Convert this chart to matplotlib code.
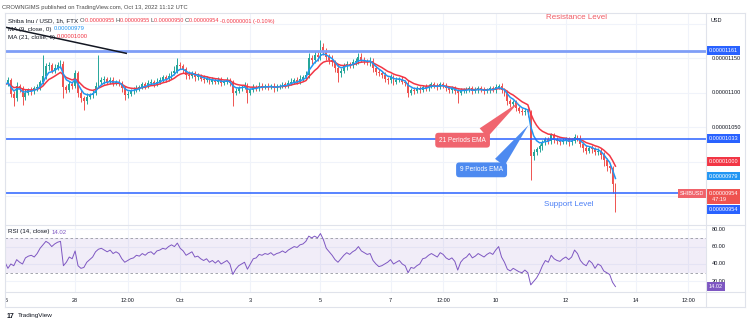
import numpy as np
import pandas as pd
import matplotlib
matplotlib.use("Agg")
import matplotlib.pyplot as plt
import matplotlib.dates as mdates
import matplotlib.transforms as mtransforms
from matplotlib.lines import Line2D

plt.rcParams["font.family"] = ["Liberation Sans", "DejaVu Sans"]

# SHIB/USD, 2h candles from Sep 26 00:00, prices in units of 1e-8 USD
start = "2022-09-26 00:00"
first_open = 1108
closes = [
    1112, 1118, 1098, 1092, 1110, 1106, 1094, 1100, 1104, 1102,
    1106, 1108, 1115, 1124, 1138, 1140, 1132, 1136, 1140, 1142,
    1108, 1104, 1112, 1110, 1128, 1100, 1092, 1088, 1094, 1096,
    1100, 1110, 1116, 1118, 1120, 1116, 1118, 1114, 1116, 1114,
    1106, 1096, 1098, 1102, 1104, 1106, 1108, 1112, 1110, 1114,
    1116, 1112, 1116, 1118, 1122, 1120, 1124, 1128, 1132, 1140,
    1138, 1134, 1126, 1124, 1128, 1122, 1124, 1120, 1118, 1120,
    1116, 1118, 1116, 1118, 1114, 1116, 1118, 1114, 1100, 1102,
    1106, 1108, 1110, 1100, 1104, 1108, 1106, 1110, 1108, 1110,
    1108, 1110, 1106, 1108, 1110, 1112, 1110, 1114, 1116, 1118,
    1116, 1120, 1122, 1126, 1150, 1148, 1154, 1152, 1166, 1160,
    1152, 1148, 1144, 1136, 1128, 1132, 1138, 1142, 1140, 1144,
    1146, 1152, 1148, 1146, 1144, 1146, 1136, 1130, 1128, 1126,
    1120, 1118, 1122, 1116, 1118, 1120, 1116, 1114, 1100, 1104,
    1102, 1106, 1104, 1108, 1106, 1110, 1112, 1110, 1108, 1112,
    1110, 1106, 1104, 1106, 1102, 1100, 1102, 1104, 1104, 1106,
    1102, 1104, 1106, 1104, 1102, 1104, 1106, 1104, 1108, 1110,
    1104, 1100, 1088, 1084, 1086, 1078, 1074, 1072, 1074, 1072,
    1008, 1014, 1018, 1022, 1028, 1032, 1030, 1038, 1032, 1030,
    1028, 1030, 1032, 1028, 1030, 1036, 1034, 1026, 1020, 1016,
    1020, 1018, 1014, 1016, 1010, 1002, 994, 990, 968, 954,
]
upper_wick = [
    4, 5, 3, 4, 6, 3, 4, 5, 3, 4,
    3, 5, 4, 30, 5, 4, 3, 5, 4, 6,
    4, 3, 5, 4, 5, 3, 4, 3, 5, 4,
    4, 6, 39, 5, 4, 3, 5, 4, 3, 4,
    3, 4, 5, 3, 4, 5, 3, 4, 3, 5,
    4, 3, 5, 4, 3, 4, 5, 4, 6, 10,
    5, 4, 3, 5, 4, 3, 4, 3, 5, 4,
    3, 4, 3, 4, 5, 3, 4, 3, 4, 5,
    4, 3, 5, 4, 3, 4, 3, 5, 4, 3,
    4, 3, 4, 5, 3, 4, 3, 4, 5, 3,
    4, 5, 4, 6, 7, 5, 6, 5, 11, 6,
    5, 4, 6, 4, 5, 4, 5, 4, 3, 5,
    4, 6, 5, 4, 3, 5, 4, 3, 4, 3,
    4, 3, 5, 3, 4, 3, 4, 3, 4, 3,
    4, 3, 4, 3, 5, 3, 4, 3, 4, 3,
    3, 4, 3, 4, 3, 3, 4, 3, 4, 3,
    3, 4, 3, 3, 4, 3, 4, 3, 4, 3,
    4, 3, 4, 3, 4, 3, 3, 4, 3, 4,
    3, 4, 3, 4, 3, 4, 3, 4, 3, 4,
    3, 4, 3, 3, 4, 4, 3, 4, 3, 4,
    3, 4, 3, 4, 3, 4, 3, 4, 3, 1,
]
lower_wick = [
    4, 3, 5, 12, 4, 5, 12, 4, 3, 5,
    4, 3, 4, 3, 4, 5, 3, 4, 3, 4,
    16, 4, 3, 5, 4, 6, 5, 13, 4, 3,
    4, 3, 4, 3, 5, 4, 3, 4, 3, 4,
    5, 6, 4, 3, 4, 3, 4, 3, 5, 4,
    3, 4, 3, 4, 3, 4, 3, 4, 3, 4,
    4, 5, 6, 4, 3, 5, 4, 3, 4, 3,
    4, 3, 4, 3, 4, 3, 4, 5, 20, 4,
    3, 4, 3, 15, 4, 3, 4, 3, 4, 3,
    4, 3, 5, 4, 3, 4, 3, 4, 3, 4,
    3, 4, 3, 4, 5, 6, 5, 6, 5, 6,
    5, 6, 5, 6, 13, 5, 4, 5, 4, 5,
    4, 5, 4, 5, 4, 5, 6, 5, 4, 5,
    4, 5, 4, 5, 4, 3, 4, 5, 7, 4,
    4, 3, 4, 3, 4, 3, 4, 3, 4, 3,
    4, 3, 4, 5, 4, 15, 4, 3, 4, 3,
    4, 3, 4, 3, 4, 3, 4, 3, 4, 3,
    4, 5, 6, 5, 4, 5, 4, 5, 4, 8,
    35, 6, 5, 4, 5, 4, 5, 4, 5, 4,
    4, 3, 4, 5, 4, 3, 4, 5, 6, 5,
    4, 5, 4, 5, 6, 8, 7, 6, 13, 27,
]
rsi_values = [
    42, 35, 40, 38, 45, 42, 40, 47, 49, 50,
    48, 52, 58, 62, 66, 64, 60, 63, 65, 66,
    38, 42, 48, 46, 55, 38, 35, 36, 42, 45,
    48, 54, 57, 58, 56, 54, 56, 52, 54, 52,
    46, 42, 44, 46, 47, 50, 49, 52, 50, 53,
    54, 51, 55, 56, 58, 57, 60, 62, 60, 64,
    58, 55, 50, 52, 54, 48, 49, 46, 44, 46,
    42, 44, 41, 44, 40, 42, 44, 40, 28, 34,
    38, 40, 42, 34, 40, 46, 47, 51, 50, 52,
    51, 53, 50, 52, 53, 55, 53, 56, 58, 60,
    59, 62, 63, 66, 72, 70, 72, 70, 75, 68,
    58, 54, 50, 45, 42, 46, 50, 53, 51, 54,
    56, 60, 55, 53, 51, 52, 44, 40, 37, 38,
    40, 42, 45, 40, 42, 44, 40, 38, 30, 36,
    35, 38, 40, 46, 47, 50, 52, 50, 48, 53,
    51, 47, 45, 47, 43, 33, 42, 46, 48, 52,
    47, 49, 52, 50, 48, 51, 53, 51, 56, 60,
    48, 42, 34, 32, 35, 33, 31, 30, 33, 30,
    16, 20, 24, 30, 38, 44, 42, 50, 46, 44,
    43, 46, 48, 45, 48, 56, 52, 44, 40, 38,
    44, 41, 35, 40, 38, 32, 30, 28, 19, 14.02,
]

resistance_top = 1161
resistance_mid = 1033
support = 954
trend_dates = ["2022-09-26 00:00", "2022-09-29 11:00"]
trend_prices = [1195, 1157]

time_ticks = ["2022-09-26 00:00", "2022-09-28 00:00", "2022-09-29 12:00",
              "2022-10-01 00:00", "2022-10-03 00:00", "2022-10-05 00:00",
              "2022-10-07 00:00", "2022-10-08 12:00", "2022-10-10 00:00",
              "2022-10-12 00:00", "2022-10-14 00:00", "2022-10-15 12:00"]
time_labels = ["6", "28", "12:00", "Oct", "3", "5", "7", "12:00",
               "10", "12", "14", "12:00"]
price_ticks = [1150, 1100, 1050]
price_grid = [1200, 1150, 1100, 1050, 1000, 950]
rsi_ticks = [80, 60, 40, 20]

UP = "#26a69a"
DOWN = "#ef5350"
BLUE = "#2962ff"
TXT = "#131722"
GRID = "#f0f3fa"
BORDER = "#e0e3eb"
PURPLE = "#7e57c2"

W, H = 750, 324


def fx(px):
    return px / W


def fy(py):
    return 1 - py / H


def price_fmt(v):
    return f"{v * 1e-8:.8f}"


def dnum(s):
    return mdates.date2num(pd.Timestamp(s))


closes_s = pd.Series(closes, dtype=float)
opens = np.array([first_open] + closes[:-1], dtype=float)
close_arr = closes_s.values
highs = np.maximum(opens, close_arr) + np.array(upper_wick)
lows = np.minimum(opens, close_arr) - np.array(lower_wick)
times = pd.date_range(start, periods=len(closes), freq="2h")
xd = mdates.date2num(times)

# hourly 9/21 EMA expressed on 2h bars
ema9 = closes_s.ewm(span=4.5, adjust=False).mean()
ema21 = closes_s.ewm(span=10.5, adjust=False).mean()

fig = plt.figure(figsize=(7.5, 3.24), dpi=100)
fig.patch.set_facecolor("white")
ax = fig.add_axes([fx(5), fy(225), fx(706) - fx(5), fy(14) - fy(225)])
ax_rsi = fig.add_axes([fx(5), fy(292), fx(706) - fx(5), fy(225) - fy(292)], sharex=ax)
for a in (ax, ax_rsi):
    a.set_axis_off()

ax.set_xlim(dnum("2022-09-26 00:00"), dnum("2022-10-16 00:00"))
ax.set_ylim(908, 1214)
ax_rsi.set_ylim(7.8, 84.8)

tick_x = [dnum(s) for s in time_ticks]
for t in tick_x:
    ax.axvline(t, color=GRID, lw=0.8, zorder=0)
    ax_rsi.axvline(t, color=GRID, lw=0.8, zorder=0)
for p in price_grid:
    ax.axhline(p, color=GRID, lw=0.8, zorder=0)
for r in rsi_ticks:
    ax_rsi.axhline(r, color=GRID, lw=0.8, zorder=0)

# candles
colors = [UP if c >= o else DOWN for o, c in zip(opens, close_arr)]
ax.vlines(xd, lows, highs, colors=colors, lw=0.7, zorder=2)
body_h = np.maximum(np.abs(close_arr - opens), 0.8)
ax.bar(xd, body_h, bottom=np.minimum(opens, close_arr), width=2 / 24 * 0.65,
       color=colors, lw=0, zorder=3)

ax.plot(xd, ema21, color="#f23645", lw=1.1, zorder=4)
ax.plot(xd, ema9, color="#2196f3", lw=1.1, zorder=4)

ax.axhline(resistance_top, color="#7f9ef7", lw=2, zorder=5)
ax.axhline(resistance_mid, color=BLUE, lw=1.1, zorder=5)
ax.axhline(support, color=BLUE, lw=1.1, zorder=5)
ax.plot([dnum(s) for s in trend_dates], trend_prices, color=TXT, lw=1.1, zorder=6)

ax.text(dnum("2022-10-12 07:00"), 1209, "Resistance Level",
        color="#f05a63", fontsize=5.8, ha="center", va="center")
ax.text(dnum("2022-10-12 02:00"), 938, "Support Level",
        color="#4a7ef5", fontsize=5.8, ha="center", va="center")

ax.annotate("21 Periods EMA",
            xy=(dnum("2022-10-10 15:45"), 1086),
            xytext=(dnum("2022-10-09 01:20"), 1031),
            color="white", fontsize=4.7, ha="center", va="center", zorder=8,
            bbox=dict(boxstyle="round,pad=0.6,rounding_size=0.5", fc="#f0656f", ec="none"),
            arrowprops=dict(arrowstyle="wedge,tail_width=1.8", fc="#f0656f", ec="none",
                            relpos=(0.85, 1.0), shrinkA=0, shrinkB=0))
ax.annotate("9 Periods EMA",
            xy=(dnum("2022-10-10 22:30"), 1053),
            xytext=(dnum("2022-10-09 14:20"), 988),
            color="white", fontsize=4.7, ha="center", va="center", zorder=8,
            bbox=dict(boxstyle="round,pad=0.6,rounding_size=0.5", fc="#4d8af0", ec="none"),
            arrowprops=dict(arrowstyle="wedge,tail_width=1.8", fc="#4d8af0", ec="none",
                            relpos=(0.85, 1.0), shrinkA=0, shrinkB=0))

# rsi pane
ax_rsi.axhspan(30, 70, color=PURPLE, alpha=0.1, lw=0, zorder=0)
ax_rsi.axhline(70, color="#9598a1", lw=0.6, ls=(0, (3, 3)))
ax_rsi.axhline(30, color="#9598a1", lw=0.6, ls=(0, (3, 3)))
ax_rsi.plot(xd, rsi_values, color=PURPLE, lw=0.7)

# frame and separators
for xs, ys in [((5, 745), (13, 13)), ((5, 745), (307, 307)), ((5, 5), (13, 307)),
               ((745, 745), (13, 307)), ((706, 706), (13, 307)),
               ((5, 745), (225, 225)), ((5, 745), (292, 292))]:
    fig.add_artist(Line2D([fx(v) for v in xs], [fy(v) for v in ys], color=BORDER, lw=0.8))

# right axis labels
ytr = ax.get_yaxis_transform()
for p in price_ticks:
    ax.text(1.008, p, price_fmt(p), transform=ytr, fontsize=4, color=TXT,
            va="center", ha="left", clip_on=False)


def tag(axis, y, text, bg, dy=0, x=1.004, ha="left"):
    axis.annotate(text, xy=(x, y), xycoords=axis.get_yaxis_transform(),
                  xytext=(0, dy), textcoords="offset points",
                  fontsize=4, color="white", ha=ha, va="center",
                  bbox=dict(boxstyle="square,pad=0.35", fc=bg, ec="none"),
                  annotation_clip=False, zorder=10)


tag(ax, resistance_top, price_fmt(resistance_top), BLUE)
tag(ax, resistance_mid, price_fmt(resistance_mid), BLUE)
tag(ax, 1000, "0.00001000", "#f23645")
tag(ax, 979, "0.00000979", "#2196f3")
tag(ax, support, "SHIBUSD", "#f0636b", x=0.997, ha="right")
tag(ax, support, "0.00000954\n  47:19", "#ef5350", dy=-2.2)
tag(ax, support, price_fmt(support), BLUE, dy=-11.5)

rtr = ax_rsi.get_yaxis_transform()
for r in rsi_ticks:
    ax_rsi.text(1.008, r, f"{r:.2f}", transform=rtr, fontsize=4, color=TXT,
                va="center", ha="left", clip_on=False)
tag(ax_rsi, rsi_values[-1], f"{rsi_values[-1]:.2f}", PURPLE)

fig.text(fx(711), fy(20), "USD", fontsize=4, color=TXT, va="center")

# time axis
ttr = mtransforms.blended_transform_factory(ax_rsi.transData, fig.transFigure)
for t, lab in zip(tick_x, time_labels):
    ax_rsi.text(t + (0.04 if lab == "6" else 0), fy(300), lab, transform=ttr,
                fontsize=4, color=TXT, ha="center", va="center", clip_on=False)

# header texts
fig.text(fx(2), fy(7), "CROWNGIMS published on TradingView.com, Oct 13, 2022 11:12 UTC",
         fontsize=4.2, color="#4a4a4a", va="center")
renderer = fig.canvas.get_renderer()


def text_runs(x_px, y_px, runs):
    x = fx(x_px)
    for s, c, size in runs:
        t = fig.text(x, fy(y_px), s, fontsize=size, color=c, va="center", ha="left")
        x += t.get_window_extent(renderer).width / fig.bbox.width


GRAY = "#4a4a4a"
RED = "#f23645"
text_runs(8, 21, [("Shiba Inu / USD, 1h, FTX ", TXT, 4.5),
                  ("O", GRAY, 4.3), ("0.00000955 ", RED, 4.0),
                  ("H", GRAY, 4.3), ("0.00000955 ", RED, 4.0),
                  ("L", GRAY, 4.3), ("0.00000950 ", RED, 4.0),
                  ("C", GRAY, 4.3), ("0.00000954 ", RED, 4.0),
                  ("-0.00000001 (-0.10%)", RED, 4.0)])
text_runs(8, 29, [("MA (9, close, 0) ", TXT, 4.5), ("0.00000979", "#2196f3", 4.2)])
text_runs(8, 37, [("MA (21, close, 0) ", TXT, 4.5), ("0.00001000", RED, 4.2)])
text_runs(8, 232, [("RSI (14, close) ", TXT, 4.5), (f"{rsi_values[-1]:.2f}", PURPLE, 4.3)])

fig.text(fx(7), fy(316), "17", fontsize=5, fontweight="bold", color=TXT, va="center")
fig.text(fx(18), fy(316), "TradingView", fontsize=4.6, color=TXT, va="center")

fig.savefig("out.png", dpi=100)
